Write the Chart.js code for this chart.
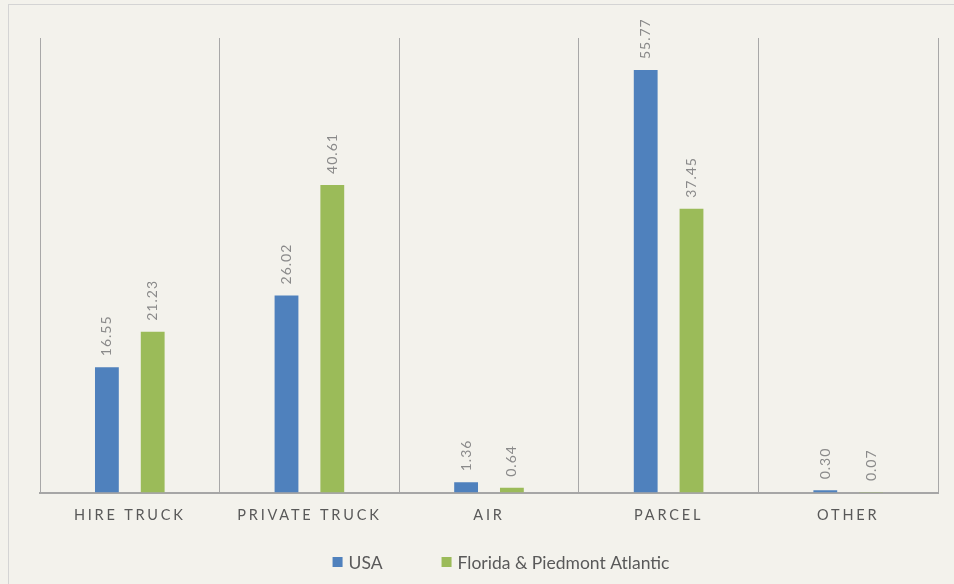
<!DOCTYPE html>
<html>
<head>
<meta charset="utf-8">
<script src="https://cdn.jsdelivr.net/npm/chart.js@4.4.1/dist/chart.umd.min.js"></script>
<style>
    html, body { margin: 0; padding: 0; background: #f3f2ec; }
    #wrap { position: relative; width: 954px; height: 584px; }
    #frame {
        position: absolute; left: 8px; top: 4px; right: -2px; bottom: -2px;
        border-top: 1px solid #d4d4d4; border-left: 1px solid #d4d4d4;
        pointer-events: none;
    }
</style>
</head>
<body>
<div id="wrap">
    <canvas id="modeChart" width="954" height="584"></canvas>
    <div id="frame"></div>
</div>
<script>
const categories = ['HIRE TRUCK', 'PRIVATE TRUCK', 'AIR', 'PARCEL', 'OTHER'];
const usaValues = [16.55, 26.02, 1.36, 55.77, 0.30];
const floridaValues = [21.23, 40.61, 0.64, 37.45, 0.07];
const seriesNames = ['USA', 'Florida & Piedmont Atlantic'];
const seriesColors = ['#4f81bd', '#9bbb59'];

const FONT = 'Lato, "Open Sans", sans-serif';

// value labels above bars (rotated) + spaced tick labels + legend
const valueLabels = {
    id: 'valueLabels',
    beforeDraw(chart) {
        chart.ctx.letterSpacing = '2.8px';
    },
    beforeDatasetsDraw(chart) {
        chart.ctx.letterSpacing = '0px';
    },
    afterDatasetsDraw(chart) {
        const ctx = chart.ctx;
        ctx.save();
        ctx.letterSpacing = '1px';
        ctx.font = '14px ' + FONT;
        ctx.fillStyle = '#8a8a8a';
        ctx.textAlign = 'left';
        ctx.textBaseline = 'middle';
        chart.data.datasets.forEach(function (ds, i) {
            chart.getDatasetMeta(i).data.forEach(function (bar, j) {
                ctx.save();
                ctx.translate(bar.x, bar.y - 11);
                ctx.rotate(-Math.PI / 2);
                ctx.fillText(ds.data[j].toFixed(2), 0, 0);
                ctx.restore();
            });
        });
        ctx.restore();
    },
    afterDraw(chart) {
        const ctx = chart.ctx;
        ctx.save();
        ctx.letterSpacing = '0px';
        ctx.font = '17.5px ' + FONT;
        ctx.textBaseline = 'middle';
        ctx.textAlign = 'left';
        const box = 10, gapText = 6, gapItem = 59;
        const items = chart.data.datasets.map(ds => ({
            text: ds.label, color: ds.backgroundColor,
            w: box + gapText + ctx.measureText(ds.label).width
        }));
        const total = items.reduce((s, it) => s + it.w, 0) + gapItem * (items.length - 1);
        let x = 501 - total / 2;
        const y = 562;
        items.forEach(it => {
            ctx.fillStyle = it.color;
            ctx.fillRect(x, y - 5, box, box);
            ctx.fillStyle = '#595959';
            ctx.fillText(it.text, x + box + gapText, y + 1);
            x += it.w + gapItem;
        });
        ctx.restore();
    }
};

new Chart(document.getElementById('modeChart'), {
    type: 'bar',
    data: {
        labels: categories,
        datasets: [{
            label: seriesNames[0],
            data: usaValues,
            backgroundColor: seriesColors[0],
            borderWidth: 0
        }, {
            label: seriesNames[1],
            data: floridaValues,
            backgroundColor: seriesColors[1],
            borderWidth: 0
        }]
    },
    options: {
        responsive: false,
        animation: false,
        categoryPercentage: 0.51,
        barPercentage: 0.52,
        layout: {
            padding: { left: 40, right: 16, top: 38, bottom: 46 }
        },
        plugins: {
            legend: { display: false },
            tooltip: { enabled: false }
        },
        scales: {
            x: {
                grid: {
                    offset: true,
                    drawTicks: false,
                    color: '#a8a8a8',
                    lineWidth: 1
                },
                border: { display: true, color: '#a6a6a6', width: 2 },
                ticks: {
                    color: '#595959',
                    font: { family: FONT, size: 14.5 },
                    padding: 14
                }
            },
            y: {
                display: false,
                min: 0,
                max: 60
            }
        }
    },
    plugins: [valueLabels]
});
</script>
</body>
</html>
